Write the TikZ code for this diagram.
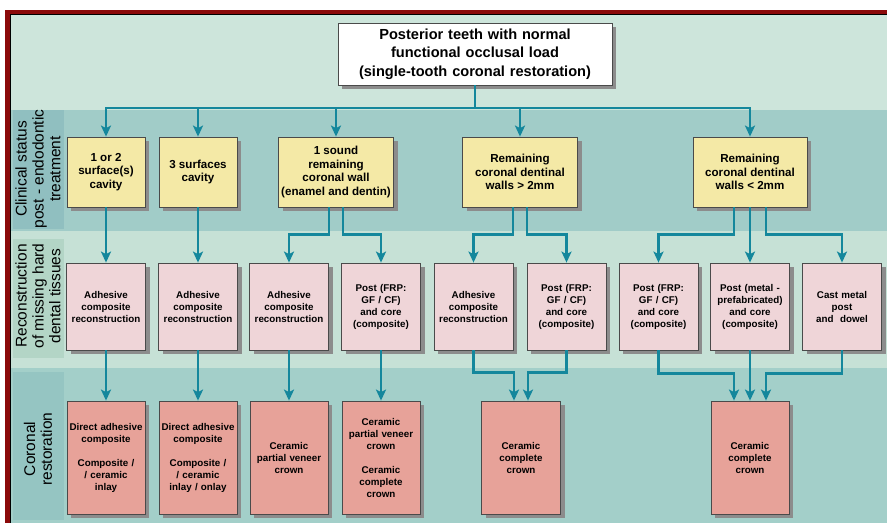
\documentclass[tikz,border=0pt]{standalone}
\usepackage{fontspec}
\setmainfont{Liberation Sans}
\usepackage{tikz}
\usetikzlibrary{arrows.meta,shadows}

\definecolor{framered}{HTML}{8B0A0A}
\definecolor{topbg}{HTML}{CDE5DB}
\definecolor{statusbg}{HTML}{A1CCC8}
\definecolor{statuslab}{HTML}{90BFC0}
\definecolor{reconbg}{HTML}{C6E1D6}
\definecolor{reconlab}{HTML}{B3D5C6}
\definecolor{restobg}{HTML}{A3CFC9}
\definecolor{restolab}{HTML}{95C5C2}
\definecolor{flowline}{HTML}{14879C}
\definecolor{boxline}{HTML}{4A4A4A}
\definecolor{statusfill}{HTML}{F4E9A6}
\definecolor{reconfill}{HTML}{EFD5D8}
\definecolor{restofill}{HTML}{E7A299}

\begin{document}
\begin{tikzpicture}[x=1pt,y=-1pt,
    box/.style={draw=boxline, line width=0.8pt, inner sep=1pt, align=center,
        drop shadow={shadow xshift=4pt, shadow yshift=-4pt, fill=black!45, opacity=1}},
    titlebox/.style={box, fill=white, minimum width=274pt, minimum height=62pt,
        text width=270pt, font=\fontsize{14.6}{18.5}\selectfont\bfseries},
    status/.style={box, fill=statusfill, minimum height=70pt,
        font=\fontsize{11.6}{13.6}\selectfont\bfseries},
    recon/.style={box, fill=reconfill, minimum width=79pt, minimum height=87pt,
        text width=77pt, font=\fontsize{9.8}{12}\selectfont\bfseries},
    resto/.style={box, fill=restofill, minimum width=78pt, minimum height=113pt,
        text width=76pt, font=\fontsize{9.8}{12}\selectfont\bfseries},
    bandlabel/.style={rotate=90, align=center, inner sep=0pt,
        font=\fontsize{15.5}{16.8}\selectfont},
    flow/.style={draw=flowline, line width=2.6pt,
        -{Stealth[length=11pt,width=10pt,inset=2.5pt]}}
]
\useasboundingbox (0,0) rectangle (887,523);

% frame and bands
\fill[white] (0,0) rectangle (887,523);
\fill[framered] (5,10) rectangle (887,523);
\fill[black] (10,13.5) rectangle (887,523);
\fill[topbg] (11,15) rectangle (887,110);
\fill[statusbg] (11,110) rectangle (887,231);
\fill[reconbg] (11,231) rectangle (887,368);
\fill[restobg] (11,368) rectangle (887,523);
\fill[statuslab] (13,110) rectangle (64,229);
\fill[reconlab] (13,239) rectangle (64,358);
\fill[restolab] (13,372) rectangle (64,520);

\node[bandlabel] (lab1) at (38,169) {Clinical status\\post - endodontic\\treatment};
\node[bandlabel] (lab2) at (38,296) {Reconstruction\\of missing hard\\dental tissues};
\node[bandlabel] (lab3) at (38,449) {Coronal\\restoration};

% boxes
\node[titlebox] (top) at (475,54)
    {Posterior teeth with normal\\functional occlusal load\\(single-tooth coronal restoration)};

\node[status, minimum width=78pt] (status1) at (106,172) {1 or 2\\surface(s)\\cavity};
\node[status, minimum width=78pt] (status2) at (198,172) {3 surfaces\\cavity};
\node[status, minimum width=115pt] (status3) at (336,172) {1 sound\\remaining\\coronal wall\\(enamel and dentin)};
\node[status, minimum width=115pt] (status4) at (520,172) {Remaining\\coronal dentinal\\walls > 2mm};
\node[status, minimum width=114pt] (status5) at (750,172) {Remaining\\coronal dentinal\\walls < 2mm};

\node[recon] (recon1) at (106,306.5) {Adhesive\\composite\\reconstruction};
\node[recon] (recon2) at (198,306.5) {Adhesive\\composite\\reconstruction};
\node[recon] (recon3) at (289,306.5) {Adhesive\\composite\\reconstruction};
\node[recon] (recon4) at (381,306.5) {Post (FRP:\\GF / CF)\\and core\\(composite)};
\node[recon] (recon5) at (473.5,306.5) {Adhesive\\composite\\reconstruction};
\node[recon] (recon6) at (566.5,306.5) {Post (FRP:\\GF / CF)\\and core\\(composite)};
\node[recon] (recon7) at (658.5,306.5) {Post (FRP:\\GF / CF)\\and core\\(composite)};
\node[recon] (recon8) at (750,306.5) {Post (metal -\\prefabricated)\\and core\\(composite)};
\node[recon] (recon9) at (842,306.5) {Cast metal\\post\\and~ dowel};

\node[resto] (resto1) at (106,457.5) {Direct adhesive\\composite\\[12pt]Composite /\\/ ceramic\\inlay};
\node[resto] (resto2) at (198,457.5) {Direct adhesive\\composite\\[12pt]Composite /\\/ ceramic\\inlay / onlay};
\node[resto] (resto3) at (289,457.5) {Ceramic\\partial veneer\\crown};
\node[resto] (resto4) at (381,457.5) {Ceramic\\partial veneer\\crown\\[12pt]Ceramic\\complete\\crown};
\node[resto, minimum width=79pt] (resto5) at (521,457.5) {Ceramic\\complete\\crown};
\node[resto] (resto6) at (750,457.5) {Ceramic\\complete\\crown};

% connectors
\coordinate (bus) at (0,108);
\draw[flow] (top.south) -- (top.south |- bus) -| (status1.north);
\draw[flow] (top.south |- bus) -| (status5.north);
\draw[flow] (status2.north |- bus) -- (status2.north);
\draw[flow] (status3.north |- bus) -- (status3.north);
\draw[flow] (status4.north |- bus) -- (status4.north);

\draw[flow] (status1) -- (recon1);
\draw[flow] (status2) -- (recon2);
\draw[flow] ([xshift=-7pt]status3.south) -- ++(0,27) -| (recon3.north);
\draw[flow] ([xshift=7pt]status3.south) -- ++(0,27) -| (recon4.north);
\draw[flow] ([xshift=-7pt]status4.south) -- ++(0,27) -| (recon5.north);
\draw[flow] ([xshift=7pt]status4.south) -- ++(0,27) -| (recon6.north);
\draw[flow] ([xshift=-16pt]status5.south) -- ++(0,27) -| (recon7.north);
\draw[flow] (status5) -- (recon8);
\draw[flow] ([xshift=16pt]status5.south) -- ++(0,27) -| (recon9.north);

\draw[flow] (recon1) -- (resto1);
\draw[flow] (recon2) -- (resto2);
\draw[flow] (recon3) -- (resto3);
\draw[flow] (recon4) -- (resto4);
\draw[flow] (recon5.south) -- ++(0,22) -| ([xshift=-7pt]resto5.north);
\draw[flow] (recon6.south) -- ++(0,22) -| ([xshift=7pt]resto5.north);
\draw[flow] (recon7.south) -- ++(0,23) -| ([xshift=-16pt]resto6.north);
\draw[flow] (recon8) -- (resto6);
\draw[flow] (recon9.south) -- ++(0,23) -| ([xshift=16pt]resto6.north);

\end{tikzpicture}
\end{document}
